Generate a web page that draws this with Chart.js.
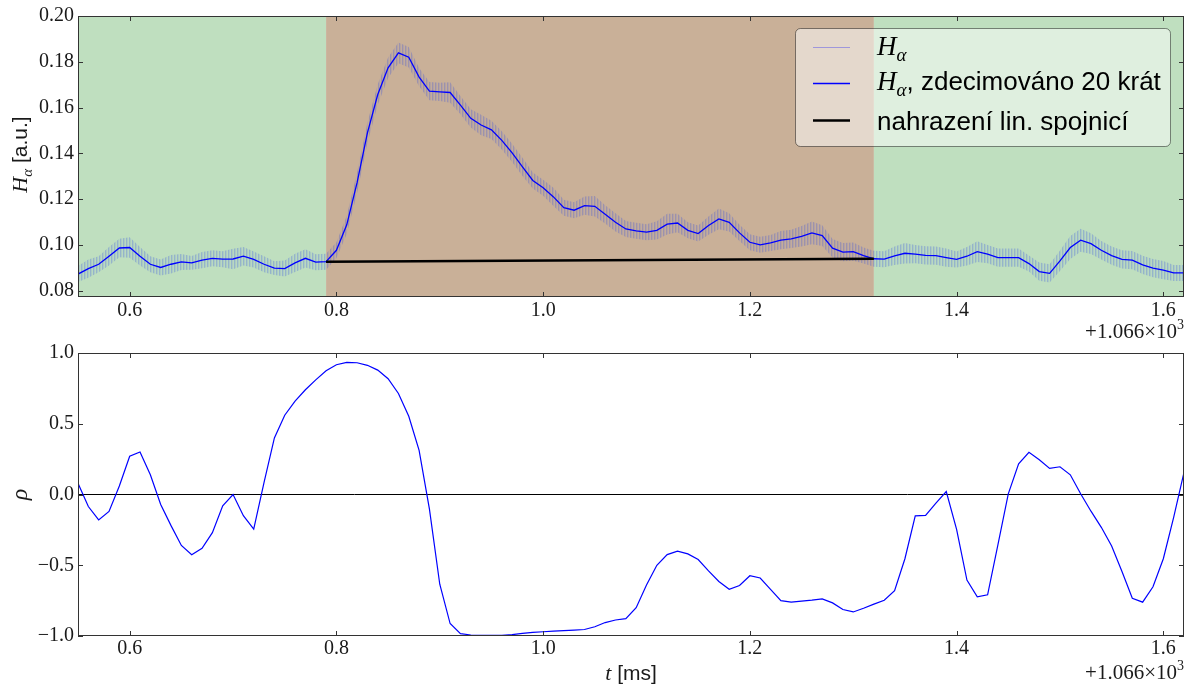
<!DOCTYPE html>
<html>
<head>
<meta charset="utf-8">
<script src="https://cdn.jsdelivr.net/npm/chart.js@4.4.1/dist/chart.umd.min.js"></script>
<style>
  html, body { margin: 0; padding: 0; background: #fff; }
  #wrap { position: relative; width: 1194px; height: 686px; overflow: hidden; }
  canvas { position: absolute; left: 0; }
  #top { top: 0; }
  #bottom { top: 323px; }
</style>
</head>
<body>
<div id="wrap">
  <canvas id="top" width="1194" height="343"></canvas>
  <canvas id="bottom" width="1194" height="363"></canvas>
</div>
<script>
// time grid (ms, relative to the +1.066e3 offset): one sample every 0.01 ms
const T0 = 0.55;
const DT = 0.01;

// H-alpha decimated 20x (a.u.)
const halpha = [
  0.0873, 0.0897, 0.0916, 0.0951, 0.0987, 0.0989, 0.0951, 0.0916, 0.0902, 0.0916, // 0.55-0.64
  0.0926, 0.0922, 0.0934, 0.0942, 0.0938, 0.0939, 0.0951, 0.0937, 0.0916, 0.0899, // 0.65-0.74
  0.0897, 0.0922, 0.0942, 0.0925, 0.0927, 0.0977, 0.1088, 0.1272, 0.1490, 0.1657, // 0.75-0.84
  0.1774, 0.1839, 0.1820, 0.1733, 0.1672, 0.1669, 0.1666, 0.1611, 0.1553, 0.1524, // 0.85-0.94
  0.1503, 0.1457, 0.1402, 0.1341, 0.1282, 0.1250, 0.1210, 0.1163, 0.1152, 0.1172, // 0.95-1.04
  0.1169, 0.1134, 0.1099, 0.1070, 0.1062, 0.1056, 0.1064, 0.1091, 0.1096, 0.1064, // 1.05-1.14
  0.1050, 0.1085, 0.1114, 0.1099, 0.1053, 0.1012, 0.1001, 0.1009, 0.1021, 0.1027, // 1.15-1.24
  0.1038, 0.1053, 0.1041, 0.0986, 0.0969, 0.0971, 0.0954, 0.0940, 0.0938, 0.0953, // 1.25-1.34
  0.0964, 0.0960, 0.0955, 0.0954, 0.0945, 0.0937, 0.0951, 0.0971, 0.0960, 0.0945, // 1.35-1.44
  0.0945, 0.0945, 0.0919, 0.0884, 0.0876, 0.0931, 0.0989, 0.1021, 0.1006, 0.0977, // 1.45-1.54
  0.0954, 0.0937, 0.0934, 0.0913, 0.0899, 0.0890, 0.0878, 0.0878                  // 1.55-1.62
];

// half-width of the raw (undecimated) H-alpha scatter around each decimated sample (a.u.)
const halphaSpread = [
  0.0035, 0.0040, 0.0035, 0.0040, 0.0040, 0.0045, 0.0040, 0.0035, 0.0035, 0.0040,
  0.0035, 0.0030, 0.0035, 0.0035, 0.0035, 0.0045, 0.0040, 0.0035, 0.0035, 0.0030,
  0.0035, 0.0040, 0.0040, 0.0035, 0.0035, 0.0035, 0.0040, 0.0045, 0.0045, 0.0045,
  0.0045, 0.0045, 0.0045, 0.0040, 0.0040, 0.0040, 0.0045, 0.0040, 0.0040, 0.0045,
  0.0040, 0.0040, 0.0040, 0.0040, 0.0035, 0.0035, 0.0040, 0.0035, 0.0035, 0.0040,
  0.0045, 0.0040, 0.0040, 0.0035, 0.0035, 0.0035, 0.0040, 0.0045, 0.0040, 0.0035,
  0.0035, 0.0040, 0.0045, 0.0040, 0.0035, 0.0035, 0.0035, 0.0035, 0.0040, 0.0040,
  0.0045, 0.0050, 0.0045, 0.0040, 0.0040, 0.0040, 0.0035, 0.0035, 0.0035, 0.0040,
  0.0045, 0.0040, 0.0040, 0.0040, 0.0040, 0.0035, 0.0040, 0.0045, 0.0040, 0.0040,
  0.0040, 0.0040, 0.0035, 0.0040, 0.0040, 0.0045, 0.0050, 0.0050, 0.0045, 0.0040,
  0.0040, 0.0040, 0.0040, 0.0040, 0.0040, 0.0040, 0.0035, 0.0035
];

// correlation coefficient rho
const rho = [
   0.080, -0.085, -0.180, -0.120,  0.060,  0.270,  0.300,  0.140, -0.070, -0.220, // 0.55-0.64
  -0.360, -0.425, -0.380, -0.270, -0.080,  0.000, -0.150, -0.245,  0.085,  0.400, // 0.65-0.74
   0.560,  0.660,  0.740,  0.810,  0.875,  0.917,  0.934,  0.931,  0.913,  0.879, // 0.75-0.84
   0.818,  0.714,  0.553,  0.312, -0.104, -0.634, -0.912, -0.983, -0.993, -0.995, // 0.85-0.94
  -0.995, -0.995, -0.990, -0.982, -0.975, -0.970, -0.966, -0.962, -0.958, -0.954, // 0.95-1.04
  -0.935, -0.905, -0.887, -0.877, -0.800, -0.640, -0.500, -0.425, -0.400, -0.420, // 1.05-1.14
  -0.460, -0.540, -0.615, -0.670, -0.643, -0.574, -0.590, -0.670, -0.750, -0.760, // 1.15-1.24
  -0.754, -0.747, -0.738, -0.766, -0.813, -0.830, -0.804, -0.775, -0.747, -0.680, // 1.25-1.34
  -0.454, -0.151, -0.147, -0.061,  0.021, -0.246, -0.605, -0.723, -0.709, -0.355, // 1.35-1.44
   0.005,  0.217,  0.298,  0.246,  0.184,  0.196,  0.139,  0.005, -0.118, -0.232, // 1.45-1.54
  -0.364, -0.544, -0.733, -0.761, -0.652, -0.454, -0.161,  0.156                  // 1.55-1.62
];

// interval replaced by a straight line
const spanEdges = [0.79, 1.32];

const xTicks = [0.6, 0.8, 1.0, 1.2, 1.4, 1.6];
const yTicksTop = [0.08, 0.10, 0.12, 0.14, 0.16, 0.18, 0.20];
const yTicksBottom = [-1.0, -0.5, 0.0, 0.5, 1.0];

const SERIF = "'Liberation Serif', 'DejaVu Serif', serif";
const SANS = "'Liberation Sans', Arial, sans-serif";
const INK = '#1a1a1a';
const GREEN = 'rgb(191,223,191)';
const BROWN = 'rgb(201,176,152)';

const times = halpha.map((_, i) => +(T0 + i * DT).toFixed(2));
const pts = ys => ys.map((y, i) => ({ x: times[i], y }));
const idxOf = t => Math.round((t - T0) / DT);

// thin vertical hatching for the raw signal band
function stripes(ctx) {
  const c = document.createElement('canvas');
  c.width = 3; c.height = 4;
  const g = c.getContext('2d');
  g.fillStyle = 'rgba(40,70,230,0.28)'; g.fillRect(0, 0, 1, 4);
  g.fillStyle = 'rgba(40,70,230,0.13)'; g.fillRect(1, 0, 1, 4);
  g.fillStyle = 'rgba(40,70,230,0.04)'; g.fillRect(2, 0, 1, 4);
  return ctx.createPattern(c, 'repeat');
}

function xAxis(height, pad) {
  return {
    type: 'linear', min: 0.55, max: 1.62,
    grid: { display: false, drawTicks: false },
    border: { display: false },
    afterBuildTicks: s => { s.ticks = xTicks.map(v => ({ value: v })); },
    afterFit: s => { s.height = height; },
    ticks: {
      font: { family: SERIF, size: 20 }, color: INK, padding: pad,
      maxRotation: 0, autoSkip: false,
      callback: v => v.toFixed(1)
    }
  };
}

function yAxis(min, max, values, fmt) {
  return {
    type: 'linear', min, max,
    grid: { display: false, drawTicks: false },
    border: { display: false },
    afterBuildTicks: s => { s.ticks = values.map(v => ({ value: v })); },
    afterFit: s => { s.width = 78; },
    ticks: { font: { family: SERIF, size: 20 }, color: INK, padding: 4, callback: fmt }
  };
}

// axes box with inward ticks on all four sides
const framePlugin = {
  id: 'frame',
  afterDatasetsDraw(chart) {
    const { ctx, chartArea: a, scales } = chart;
    ctx.save();
    ctx.strokeStyle = '#333';
    ctx.lineWidth = 1;
    ctx.strokeRect(a.left + 0.5, a.top + 0.5, a.right - a.left - 1, a.bottom - a.top - 1);
    ctx.beginPath();
    scales.x.ticks.forEach(t => {
      const px = Math.round(scales.x.getPixelForValue(t.value)) + 0.5;
      ctx.moveTo(px, a.bottom); ctx.lineTo(px, a.bottom - 5);
      ctx.moveTo(px, a.top); ctx.lineTo(px, a.top + 5);
    });
    scales.y.ticks.forEach(t => {
      const py = Math.round(scales.y.getPixelForValue(t.value)) + 0.5;
      ctx.moveTo(a.left, py); ctx.lineTo(a.left + 5, py);
      ctx.moveTo(a.right, py); ctx.lineTo(a.right - 5, py);
    });
    ctx.stroke();
    ctx.restore();
  }
};

// shaded time windows behind the H-alpha traces
const spanPlugin = {
  id: 'spans',
  beforeDatasetsDraw(chart) {
    const { ctx, chartArea: a, scales: { x } } = chart;
    const bands = [[x.min, spanEdges[0], GREEN], [spanEdges[0], spanEdges[1], BROWN], [spanEdges[1], x.max, GREEN]];
    ctx.save();
    bands.forEach(([from, to, color]) => {
      const x0 = x.getPixelForValue(from), x1 = x.getPixelForValue(to);
      ctx.fillStyle = color;
      ctx.fillRect(x0, a.top, x1 - x0, a.bottom - a.top);
    });
    ctx.restore();
  }
};

function runsWidth(ctx, runs) {
  return runs.reduce((w, r) => { ctx.font = r.font; return w + ctx.measureText(r.text).width; }, 0);
}
function drawRuns(ctx, runs, x, y) {
  runs.forEach(r => {
    ctx.font = r.font;
    ctx.fillText(r.text, x, y + (r.dy || 0));
    x += ctx.measureText(r.text).width;
  });
}
function drawOffset(ctx, right, baseline) {
  const runs = [
    { text: '+1.066\u00d710', font: `21px ${SERIF}` },
    { text: '3', font: `14px ${SERIF}`, dy: -9 }
  ];
  drawRuns(ctx, runs, right - runsWidth(ctx, runs), baseline);
}
const halphaRuns = (size, sub) => [
  { text: 'H', font: `italic ${size}px ${SERIF}` },
  { text: '\u03b1', font: `italic ${sub}px ${SERIF}`, dy: Math.round(size * 0.22) }
];

const topLabels = {
  id: 'topLabels',
  afterDraw(chart) {
    const { ctx, chartArea: a } = chart;
    ctx.save();
    ctx.fillStyle = INK;
    ctx.textBaseline = 'alphabetic';

    // y axis title
    ctx.save();
    ctx.translate(27, (a.top + a.bottom) / 2 - 2);
    ctx.rotate(-Math.PI / 2);
    const yl = [...halphaRuns(22, 15), { text: ' [a.u.]', font: `21px ${SANS}` }];
    drawRuns(ctx, yl, -runsWidth(ctx, yl) / 2, 0);
    ctx.restore();

    drawOffset(ctx, a.right, 338);

    // legend
    const bx = 795, by = 28, bw = 375, bh = 118;
    ctx.beginPath();
    ctx.roundRect(bx + 0.5, by + 0.5, bw, bh, 5);
    ctx.fillStyle = 'rgba(255,255,255,0.5)';
    ctx.fill();
    ctx.strokeStyle = 'rgba(0,0,0,0.45)';
    ctx.lineWidth = 1;
    ctx.stroke();

    const rows = [
      { y: 47, base: 55, color: 'rgba(0,0,255,0.3)', width: 1,
        runs: halphaRuns(27, 19) },
      { y: 83, base: 90, color: '#0000ff', width: 1.3,
        runs: [...halphaRuns(27, 19), { text: ', zdecimováno 20 krát', font: `26px ${SANS}` }] },
      { y: 120, base: 130, color: '#000', width: 2.6,
        runs: [{ text: 'nahrazení lin. spojnicí', font: `26px ${SANS}` }] }
    ];
    rows.forEach(r => {
      ctx.beginPath();
      ctx.strokeStyle = r.color;
      ctx.lineWidth = r.width;
      ctx.moveTo(813, r.y + 0.5);
      ctx.lineTo(850, r.y + 0.5);
      ctx.stroke();
      ctx.fillStyle = '#000';
      drawRuns(ctx, r.runs, 877, r.base);
    });
    ctx.restore();
  }
};

const bottomLabels = {
  id: 'bottomLabels',
  afterDraw(chart) {
    const { ctx, chartArea: a } = chart;
    ctx.save();
    ctx.fillStyle = INK;
    ctx.textBaseline = 'alphabetic';

    ctx.save();
    ctx.translate(27, (a.top + a.bottom) / 2);
    ctx.rotate(-Math.PI / 2);
    ctx.font = `italic 24px ${SERIF}`;
    ctx.textAlign = 'center';
    ctx.fillText('\u03c1', 0, 0);
    ctx.restore();

    const xl = [{ text: 't', font: `italic 22px ${SERIF}` }, { text: ' [ms]', font: `21px ${SANS}` }];
    drawRuns(ctx, xl, (a.left + a.right) / 2 - runsWidth(ctx, xl) / 2, 357);

    drawOffset(ctx, a.right, 356);
    ctx.restore();
  }
};

const topCanvas = document.getElementById('top');
const topCtx = topCanvas.getContext('2d');
const i0 = idxOf(spanEdges[0]), i1 = idxOf(spanEdges[1]);

new Chart(topCanvas, {
  type: 'line',
  data: {
    datasets: [
      { data: pts(halpha.map((v, i) => v - halphaSpread[i])), borderWidth: 0, pointRadius: 0, fill: false, order: 4 },
      { data: pts(halpha.map((v, i) => v + halphaSpread[i])), borderWidth: 0, pointRadius: 0, fill: '-1',
        backgroundColor: stripes(topCtx), order: 3 },
      { data: pts(halpha), borderColor: '#0000ff', borderWidth: 1.3, pointRadius: 0, fill: false, order: 2 },
      { data: [{ x: times[i0], y: halpha[i0] }, { x: times[i1], y: halpha[i1] }],
        borderColor: '#000', borderWidth: 2.6, pointRadius: 0, fill: false, order: 1 }
    ]
  },
  options: {
    responsive: false,
    animation: false,
    layout: { padding: { top: 15, right: 10, left: 0, bottom: 0 } },
    plugins: { legend: { display: false }, tooltip: { enabled: false } },
    scales: {
      x: xAxis(46, 2),
      y: yAxis(0.0773, 0.20, yTicksTop, v => v.toFixed(2))
    }
  },
  plugins: [spanPlugin, framePlugin, topLabels]
});

new Chart(document.getElementById('bottom'), {
  type: 'line',
  data: {
    datasets: [
      { data: [{ x: 0.55, y: 0 }, { x: 1.62, y: 0 }], borderColor: '#000', borderWidth: 1, pointRadius: 0, order: 2 },
      { data: pts(rho), borderColor: '#0000ff', borderWidth: 1.2, pointRadius: 0, fill: false, order: 1 }
    ]
  },
  options: {
    responsive: false,
    animation: false,
    layout: { padding: { top: 30, right: 10, left: 0, bottom: 0 } },
    plugins: { legend: { display: false }, tooltip: { enabled: false } },
    scales: {
      x: xAxis(50, 1),
      y: yAxis(-1, 1, yTicksBottom, v => (v < 0 ? '\u2212' : '') + Math.abs(v).toFixed(1))
    }
  },
  plugins: [framePlugin, bottomLabels]
});
</script>
</body>
</html>
